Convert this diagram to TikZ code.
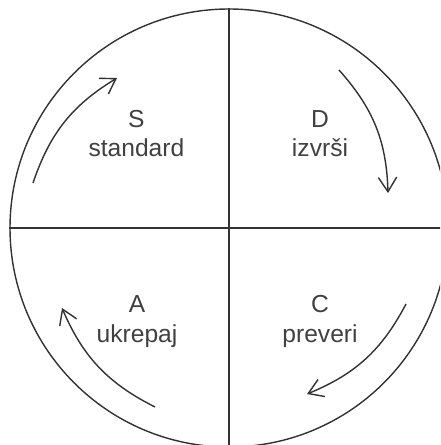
\documentclass[tikz,border=0pt]{standalone}
\usepackage{fontspec}
\setmainfont{Liberation Sans}
\usetikzlibrary{arrows.meta}
\tikzset{
  phase/.style={align=center, anchor=base, inner sep=0pt, text=black!75,
    font=\fontsize{17.5}{21}\selectfont},
  turn/.style={draw=black!80, -{Straight Barb[length=3.6mm,width=4.6mm]}}
}

\begin{document}
\begin{tikzpicture}[line width=1pt]
\clip (0,0) rectangle (11,-11.125);
\node[draw=black!80, circle, minimum size=10.95cm, inner sep=0pt] (ring) at (5.725,-5.7) {};
\draw[black!80] (ring.north) -- (ring.south);
\draw[black!80] (ring.west) -- (ring.east);

\node[phase] (s) at (3.41,-3.925) {S\\standard};
\node[phase] (d) at (8.0,-3.925) {D\\izvrši};
\node[phase] (c) at (8.0,-8.55) {C\\preveri};
\node[phase] (a) at (3.425,-8.55) {A\\ukrepaj};

\coordinate (s0) at (0.825,-4.575);
\coordinate (s1) at (2.925,-1.95);
\coordinate (d0) at (8.475,-1.75);
\coordinate (d1) at (9.7,-4.825);
\coordinate (c0) at (10.15,-7.6);
\coordinate (c1) at (7.675,-9.85);
\coordinate (a0) at (3.875,-10.175);
\coordinate (a1) at (1.55,-7.7);
\draw[turn] (s0) to[bend left=20] (s1);
\draw[turn] (d0) to[bend left=20] (d1);
\draw[turn] (c0) to[bend left=20] (c1);
\draw[turn] (a0) to[bend left=20] (a1);
\end{tikzpicture}
\end{document}
